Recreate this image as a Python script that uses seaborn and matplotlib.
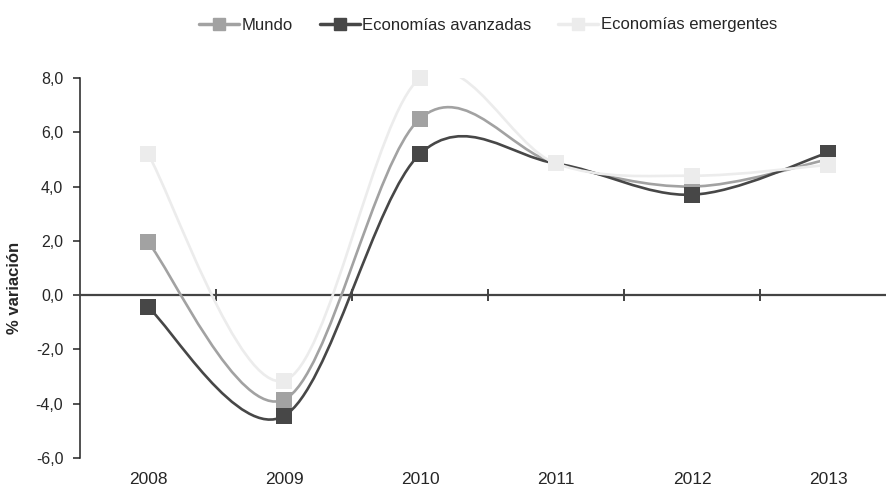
# Crecimiento del PIB: Mundo vs economías avanzadas y emergentes

import numpy as np
import pandas as pd
import matplotlib.pyplot as plt
import seaborn as sns
from matplotlib.path import Path
from matplotlib.patches import PathPatch
from matplotlib.lines import Line2D
from matplotlib.transforms import blended_transform_factory

years = ["2008", "2009", "2010", "2011", "2012", "2013"]
mundo = [1.95, -3.85, 6.5, 4.85, 4.0, 5.0]
avanzadas = [-0.45, -4.45, 5.2, 4.85, 3.7, 5.25]
emergentes = [5.2, -3.15, 8.0, 4.85, 4.4, 4.8]

series = ["Mundo", "Economías avanzadas", "Economías emergentes"]
colors = {"Mundo": "#a2a2a2", "Economías avanzadas": "#474747", "Economías emergentes": "#ececec"}

df = pd.DataFrame({
    "pos": list(range(len(years))) * 3,
    "valor": mundo + avanzadas + emergentes,
    "serie": [s for s in series for _ in years],
})

sns.set_style("white")
plt.rcParams["font.family"] = ["Liberation Sans", "DejaVu Sans"]


def smooth_path(xs, ys):
    # Excel style smoothed line: cubic bezier through every point
    pts = np.column_stack([xs, ys]).astype(float)
    n = len(pts)
    verts = [pts[0]]
    codes = [Path.MOVETO]
    for i in range(n - 1):
        p0 = pts[max(i - 1, 0)]
        p1 = pts[i]
        p2 = pts[i + 1]
        p3 = pts[min(i + 2, n - 1)]
        c1 = p1 + (p2 - p0) / 6
        c2 = p2 - (p3 - p1) / 6
        verts += [c1, c2, p2]
        codes += [Path.CURVE4] * 3
    return Path(verts, codes)


fig = plt.figure(figsize=(8.86, 4.88), dpi=100)
ax = fig.add_axes([80 / 886, 30 / 488, 816 / 886, 380 / 488])

for k, s in enumerate(series):
    d = df[df["serie"] == s]
    patch = PathPatch(smooth_path(d["pos"], d["valor"]), facecolor="none",
                      edgecolor=colors[s], lw=1.9, zorder=3 + k)
    ax.add_patch(patch)
    sns.scatterplot(data=d, x="pos", y="valor", color=colors[s], marker="s",
                    s=125, linewidth=0, ax=ax, zorder=3 + k, clip_on=False)

ax.set_xlim(-0.5, 5.5)
ax.set_ylim(-6, 8)
ax.set_yticks(np.arange(-6, 9, 2))
ax.set_yticklabels([f"{v:.1f}".replace(".", ",") for v in np.arange(-6, 9, 2)], fontsize=11.5)

# category axis crosses at zero, marks between categories
ax.spines["top"].set_visible(False)
ax.spines["right"].set_visible(False)
ax.spines["bottom"].set_position(("data", 0))
ax.spines["bottom"].set_color("#444444")
ax.spines["bottom"].set_linewidth(1.6)
ax.spines["left"].set_color("#222222")
ax.spines["left"].set_linewidth(1.1)
ax.set_xticks(np.arange(0.5, 6, 1))
ax.set_xticklabels([])
ax.tick_params(axis="x", bottom=True, direction="inout", length=8, width=1.3, color="#333333")
ax.tick_params(axis="y", left=True, direction="out", length=5, width=1.1, color="#222222", pad=7)
ax.set_xlabel("")

trans = blended_transform_factory(ax.transData, ax.transAxes)
for i, y in enumerate(years):
    ax.text(i, -22 / 380, y, transform=trans, ha="center", va="center", fontsize=12.5)

ax.set_ylabel("% variación", fontsize=12, fontweight="bold")
ax.yaxis.set_label_coords(-58 / 816, 0.447)

handles = [Line2D([0], [0], color=colors[s], lw=2.5, marker="s", markersize=8.5) for s in series]
fig.legend(handles, series, loc="center", bbox_to_anchor=(488 / 886, 1 - 25 / 488),
           ncol=3, frameon=False, fontsize=12, handlelength=2.4, handletextpad=0.15,
           columnspacing=1.6)

fig.savefig("out.png", dpi=100)
